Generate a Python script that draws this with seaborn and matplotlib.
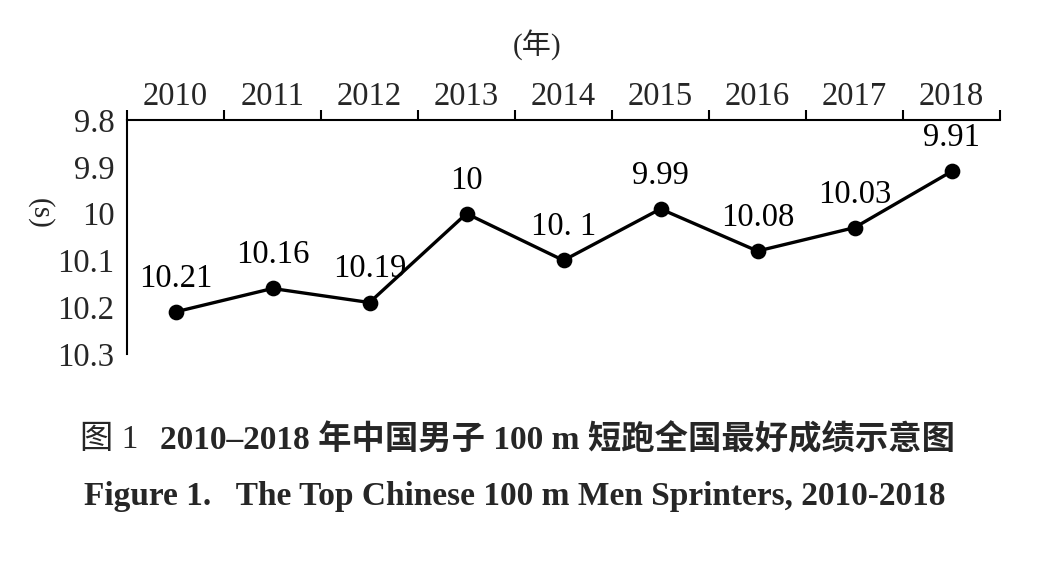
import numpy as np
import matplotlib
matplotlib.use("Agg")
import matplotlib.pyplot as plt
import seaborn as sns

# --- data ---
years = ["2010", "2011", "2012", "2013", "2014", "2015", "2016", "2017", "2018"]
best_times = [10.21, 10.16, 10.19, 10.00, 10.10, 9.99, 10.08, 10.03, 9.91]
point_labels = ["10.21", "10.16", "10.19", "10", "10. 1", "9.99", "10.08", "10.03", "9.91"]
y_ticks = [9.8, 9.9, 10.0, 10.1, 10.2, 10.3]
y_tick_labels = ["9.8", "9.9", "10", "10.1", "10.2", "10.3"]

sns.set_theme(style="white")
plt.rcParams['font.family'] = ['Liberation Serif', 'Noto Sans CJK SC']

W, H = 1039, 566
fig = plt.figure(figsize=(W / 100, H / 100), dpi=100)
ax = fig.add_axes([127 / W, 1 - 354 / H, (1000 - 127) / W, (354 - 120) / H])

sns.pointplot(x=years, y=best_times, color="black", markers="o",
              linewidth=2.4, markersize=9.5, ax=ax)

ax.set_xlim(-0.5, len(years) - 0.5)
ax.set_ylim(10.3, 9.8)

# point value labels
for i, (v, lab) in enumerate(zip(best_times, point_labels)):
    ax.annotate(lab, (i, v), xytext=(0, 13), textcoords="offset points",
                ha="center", va="bottom", fontsize=23.5, color="black")

# x axis on top: ticks at category boundaries, labels at centres
ax.xaxis.tick_top()
ax.set_xticks(np.arange(len(years) + 1) - 0.5)
ax.set_xticklabels([])
ax.set_xticks(np.arange(len(years)), minor=True)
ax.set_xticklabels(years, minor=True, fontsize=23.5)
ax.tick_params(axis="x", which="major", direction="out", length=7, width=1.5, color="black")
ax.tick_params(axis="x", which="minor", length=0, pad=6)
ax.set_xlabel("")

ax.set_yticks(y_ticks)
ax.set_yticklabels(y_tick_labels, fontsize=23.5)
ax.tick_params(axis="y", length=0, pad=9)
ax.set_ylabel("")

for s in ["bottom", "right"]:
    ax.spines[s].set_visible(False)
for s in ["top", "left"]:
    ax.spines[s].set_color("black")
    ax.spines[s].set_linewidth(1.5)
ax.grid(False)

fig.text(537 / W, 1 - 45 / H, "(年)", ha="center", va="center", fontsize=21,
         family=['Liberation Serif', 'Noto Sans CJK SC'])
fig.text(40 / W, 1 - 213 / H, "(s)", ha="center", va="center", fontsize=21, rotation=-90)

fig.text(80 / W, 1 - 440 / H, "图 1", ha="left", va="center", fontsize=24,
         family=['Liberation Serif', 'Noto Sans CJK SC'])
fig.text(160 / W, 1 - 440 / H, "2010–2018 年中国男子 100 m 短跑全国最好成绩示意图",
         ha="left", va="center", fontsize=24, fontweight="bold",
         family=['Liberation Serif', 'Noto Sans CJK SC'])
fig.text(515 / W, 1 - 497 / H, "Figure 1.   The Top Chinese 100 m Men Sprinters, 2010-2018",
         ha="center", va="center", fontsize=24, fontweight="bold")

fig.savefig("out.png", dpi=100, facecolor="white")
